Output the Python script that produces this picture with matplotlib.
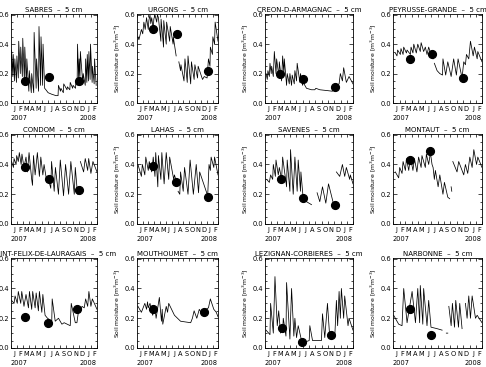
import numpy as np
import matplotlib
matplotlib.use("Agg")
import matplotlib.pyplot as plt
from matplotlib.ticker import MultipleLocator

nan = np.nan

# ---------------- data (day since 1 Jan 2007, soil moisture m3/m3) ----------------
MONTH_LABELS = list("JFMAMJJASONDJF")
MONTH_STARTS = [0, 31, 59, 90, 120, 151, 181, 212, 243, 273, 304, 334, 365, 396, 424]
Y_TICKS = [0.0, 0.2, 0.4, 0.6]

SABRES = [(0,0.22),(3,0.36),(9,0.18),(11,0.33),(17,0.15),(19,0.30),(27,0.14),(29,0.32),(36,0.17),(38,0.42),
          (46,0.20),(48,0.38),(56,0.18),(58,0.44),(66,0.15),(68,0.38),(76,0.12),(78,0.30),(88,0.08),(90,0.22),
          (100,0.07),(102,0.20),(112,0.07),(114,0.48),(124,0.10),(126,0.30),(136,0.08),(138,0.52),(146,0.12),
          (148,0.45),(156,0.12),(158,0.40),(166,0.10),(172,0.09),(183,0.07),(200,0.06),(222,0.05),(232,0.05),
          (234,0.12),(244,0.08),(246,0.10),(258,0.07),(260,0.13),(276,0.09),(278,0.11),(290,0.09),(292,0.14),
          (304,0.10),(306,0.12),(318,0.10),(320,0.15),(326,0.12),(328,0.40),(334,0.15),(336,0.30),(340,0.18),
          (342,0.35),(354,0.13),(356,0.20),(366,0.12),(368,0.30),(374,0.14),(376,0.33),(382,0.15),(384,0.35),
          (390,0.16),(392,0.40),(400,0.14),(402,0.25),(410,0.13),(412,0.30),(420,0.12)]
URGONS = [(5,0.45),(10,0.43),(23,0.50),(30,0.47),(36,0.55),(43,0.50),(50,0.58),(59,0.50),(62,0.56),(68,0.60),
          (72,0.54),(77,0.58),(85,0.50),(88,0.57),(94,0.60),(103,0.55),(107,0.60),(112,0.58),(125,0.42),(126,0.57),
          (139,0.38),(140,0.56),(153,0.40),(155,0.55),(171,0.42),(174,0.52),(189,0.40),(190,0.45),(205,0.32),(206,nan),
          (219,0.28),(228,0.22),(230,0.26),(246,0.15),(251,0.30),(263,0.14),(267,0.32),(281,0.13),(285,0.28),(299,0.16),
          (303,0.26),(317,0.17),(320,0.25),(343,0.16),(352,0.18),(367,0.17),(374,0.30),(382,0.25),(384,0.38),(395,0.33),
          (397,0.45),(406,0.40),(409,0.55),(424,0.42)]
CREON = [(5,0.20),(11,0.16),(14,0.22),(21,0.18),(24,0.27),(30,0.20),(32,0.25),(40,0.18),(45,0.35),(53,0.20),
         (56,0.30),(67,0.18),(69,0.28),(80,0.15),(85,0.32),(91,0.20),(93,0.30),(104,0.12),(107,0.20),(117,0.13),
         (120,0.20),(128,0.12),(131,0.19),(141,0.13),(144,0.22),(152,0.15),(155,0.27),(168,0.14),(171,0.20),(181,0.12),
         (184,0.14),(200,0.10),(224,0.09),(240,0.09),(245,0.10),(264,0.09),(296,0.085),(325,0.08),(336,0.12),(344,0.12),
         (357,0.13),(363,0.20),(373,0.15),(379,0.24),(392,0.14),(405,0.18),(424,0.13)]
PEYRUSSE = [(11,0.34),(19,0.32),(22,0.36),(35,0.33),(38,0.37),(48,0.33),(51,0.38),(64,0.34),(67,0.36),(83,0.33),
            (86,0.38),(95,0.34),(99,0.40),(111,0.34),(118,0.40),(130,0.35),(134,0.41),(146,0.35),(154,0.38),(162,0.33),
            (170,0.38),(181,0.33),(186,0.35),(191,0.30),(194,nan),(197,0.27),(210,0.22),(223,0.20),(236,0.19),(238,0.30),
            (251,0.19),(261,0.28),(277,0.18),(289,0.30),(302,0.19),(310,0.30),(329,0.17),(337,0.28),(345,0.26),(350,0.33),
            (361,0.30),(369,0.42),(382,0.32),(388,0.38),(401,0.30),(404,0.35),(424,0.28)]
CONDOM = [(3,0.42),(12,0.38),(15,0.44),(25,0.40),(28,0.46),(36,0.42),(41,0.48),(50,0.40),(54,0.47),(64,0.38),
          (74,0.45),(81,0.35),(89,0.48),(102,0.30),(106,0.26),(111,0.46),(119,0.33),(130,0.48),(140,0.32),(147,0.45),
          (157,0.33),(163,0.40),(177,0.28),(185,0.30),(196,0.24),(200,0.42),(213,0.22),(219,0.38),(234,0.20),(243,0.43),
          (259,0.19),(269,0.40),(284,0.20),(295,0.42),(312,0.20),(317,0.38),(328,0.20),(335,nan),(342,0.42),(358,0.35),
          (366,0.44),(378,0.36),(383,0.44),(394,0.34),(404,0.42),(424,0.35)]
LAHAS = [(5,0.40),(23,0.32),(28,0.40),(41,0.33),(46,0.45),(59,0.36),(64,0.42),(77,0.35),(85,0.45),(94,0.32),
         (98,0.48),(109,0.25),(112,0.46),(125,0.30),(130,0.48),(142,0.27),(153,0.48),(166,0.30),(171,0.45),(192,0.30),
         (196,0.33),(210,0.27),(212,nan),(215,0.22),(224,0.20),(228,0.35),(242,0.22),(249,0.38),(267,0.20),(278,0.43),
         (295,0.20),(310,0.40),(322,0.21),(328,0.35),(370,0.19),(377,0.40),(384,0.36),(388,0.45),(402,0.38),(406,0.45),
         (424,0.33)]
SAVENES = [(8,0.30),(21,0.28),(27,0.33),(37,0.30),(40,0.40),(50,0.32),(53,0.43),(64,0.33),(69,0.38),(80,0.30),
           (85,0.45),(104,0.25),(107,0.43),(120,0.22),(123,0.50),(136,0.20),(144,0.45),(155,0.22),(160,0.43),(171,0.22),
           (173,0.35),(184,0.17),(200,0.15),(224,0.13),(230,nan),(251,0.21),(264,0.15),(277,0.25),(293,0.14),(306,0.27),
           (331,0.13),(338,nan),(344,0.35),(360,0.32),(373,0.40),(384,0.32),(392,0.38),(408,0.30),(411,0.33),(424,0.27)]
MONTAUT = [(11,0.35),(27,0.31),(32,0.38),(43,0.34),(48,0.42),(59,0.36),(64,0.44),(75,0.36),(83,0.45),(95,0.36),
           (102,0.44),(114,0.35),(122,0.45),(134,0.38),(138,0.46),(154,0.38),(159,0.47),(170,0.40),(178,0.48),(186,0.40),
           (191,0.38),(197,0.30),(202,0.36),(215,0.25),(223,0.33),(238,0.20),(245,0.28),(261,0.18),(270,0.17),(274,nan),
           (277,0.25),(280,0.22),(282,nan),(285,0.42),(305,0.35),(313,0.42),(337,0.33),(345,0.40),(356,0.34),(366,0.45),
           (377,0.38),(385,0.50),(398,0.40),(404,0.45),(424,0.38)]
SAINT_FELIX = [(3,0.32),(15,0.30),(20,0.35),(31,0.30),(36,0.38),(48,0.30),(53,0.38),(64,0.28),(74,0.36),(86,0.27),
               (91,0.38),(102,0.26),(107,0.38),(119,0.27),(124,0.37),(135,0.25),(140,0.38),(152,0.24),(157,0.36),(168,0.22),
               (180,0.20),(201,0.18),(203,0.33),(218,0.18),(234,0.20),(251,0.16),(262,0.17),(292,0.15),(297,0.30),(317,0.17),
               (325,0.17),(333,0.25),(342,0.24),(350,0.28),(361,0.27),(368,0.33),(378,0.28),(384,0.38),(394,0.28),(401,0.33),
               (424,0.26)]
MOUTHOUMET = [(5,0.28),(23,0.24),(41,0.30),(50,0.26),(55,0.31),(59,0.27),(68,0.30),(82,0.22),(93,0.28),(100,0.20),
              (117,0.34),(128,0.18),(132,0.26),(135,0.16),(153,0.28),(160,0.24),(166,0.30),(196,0.22),(228,0.18),(281,0.17),
              (290,0.20),(299,0.25),(313,0.20),(326,0.26),(343,0.22),(361,0.26),(374,0.27),(384,0.33),(402,0.26),(415,0.24),
              (424,0.21)]
LEZIGNAN = [(5,0.12),(24,0.09),(27,0.30),(40,0.10),(48,0.48),(59,0.15),(66,0.25),(75,0.10),(80,0.13),(85,0.11),
            (88,0.20),(101,0.08),(104,0.44),(120,0.06),(128,0.40),(139,0.08),(144,0.20),(152,0.07),(160,0.15),(176,0.05),
            (192,0.04),(213,0.05),(216,0.15),(229,0.05),(272,0.05),(277,0.23),(288,0.07),(301,0.30),(312,0.07),(336,0.07),
            (344,0.32),(350,0.15),(357,0.38),(363,0.20),(368,0.40),(379,0.20),(384,0.35),(400,0.15),(405,0.20),(424,0.12)]
NARBONNE = [(3,0.22),(27,0.16),(43,0.15),(51,0.40),(67,0.17),(91,0.38),(107,0.17),(118,0.40),(127,0.17),(130,0.42),
            (142,0.16),(146,0.40),(162,0.15),(170,0.32),(181,0.14),(210,0.13),(234,0.12),(240,nan),(254,0.10),(261,0.10),
            (263,nan),(266,0.28),(277,0.15),(283,0.30),(293,0.14),(299,0.32),(312,0.14),(318,0.30),(329,0.13),(336,nan),
            (345,0.30),(353,0.20),(361,0.35),(369,0.20),(377,0.35),(393,0.20),(401,0.22),(424,0.17)]

# large dots (reference measurements)
DOTS = {
    "SABRES": [(69,0.152),(185,0.177),(337,0.152)],
    "URGONS": [(82,0.50),(210,0.47),(374,0.22)],
    "CREON-D-ARMAGNAC": [(72,0.195),(184,0.16),(336,0.107)],
    "PEYRUSSE-GRANDE": [(80,0.30),(186,0.335),(334,0.17)],
    "CONDOM": [(69,0.38),(185,0.30),(337,0.23)],
    "LAHAS": [(82,0.39),(206,0.28),(374,0.18)],
    "SAVENES": [(75,0.30),(184,0.175),(336,0.13)],
    "MONTAUT": [(80,0.43),(178,0.49)],
    "SAINT-FELIX-DE-LAURAGAIS": [(69,0.21),(180,0.17),(325,0.26)],
    "MOUTHOUMET": [(85,0.26),(352,0.245)],
    "LEZIGNAN-CORBIERES": [(80,0.135),(179,0.04),(320,0.087)],
    "NARBONNE": [(80,0.265),(181,0.09)],
}
SITES = [("SABRES", SABRES), ("URGONS", URGONS), ("CREON-D-ARMAGNAC", CREON), ("PEYRUSSE-GRANDE", PEYRUSSE),
         ("CONDOM", CONDOM), ("LAHAS", LAHAS), ("SAVENES", SAVENES), ("MONTAUT", MONTAUT),
         ("SAINT-FELIX-DE-LAURAGAIS", SAINT_FELIX), ("MOUTHOUMET", MOUTHOUMET),
         ("LEZIGNAN-CORBIERES", LEZIGNAN), ("NARBONNE", NARBONNE)]

# ---------------- layout ----------------
W, H = 486, 367
fig = plt.figure(figsize=(W / 100, H / 100), dpi=100)
COL_X = [(11, 97), (137, 218), (265, 353), (393, 482)]
ROW_Y = [(14, 103), (134, 224), (258, 348)]

mids = [(a + b) / 2 for a, b in zip(MONTH_STARTS[:-1], MONTH_STARTS[1:])]
FS = 4.8

for i, (name, series) in enumerate(SITES):
    r, c = divmod(i, 4)
    x0, x1 = COL_X[c]
    y0, y1 = ROW_Y[r]
    ax = fig.add_axes([x0 / W, 1 - y1 / H, (x1 - x0) / W, (y1 - y0) / H])
    d, v = np.array(series, dtype=float).T
    ax.plot(d, v, color="black", lw=0.55)
    dd, dv = np.array(DOTS[name]).T
    ax.plot(dd, dv, "o", color="black", ms=5.6, mec="black")
    ax.set_xlim(0, 424)
    ax.set_ylim(0, 0.605)
    ax.set_xticks(mids)
    ax.set_xticklabels(MONTH_LABELS, fontsize=FS)
    ax.set_xticks(MONTH_STARTS, minor=True)
    ax.tick_params(axis="x", which="major", length=0, pad=2.5)
    ax.tick_params(axis="x", which="minor", length=2, direction="in", top=True, width=0.5)
    ax.set_yticks(Y_TICKS)
    ax.set_yticklabels([f"{t:.1f}" for t in Y_TICKS], fontsize=FS)
    ax.yaxis.set_minor_locator(MultipleLocator(0.05))
    ax.tick_params(axis="y", which="major", length=3, direction="in", right=True, width=0.5, pad=1.5)
    ax.tick_params(axis="y", which="minor", length=1.5, direction="in", right=True, width=0.5)
    for s in ax.spines.values():
        s.set_linewidth(0.6)
    ax.set_title(f"{name}  \u2013  5 cm", fontsize=5.0, pad=1.8)
    ax.set_ylabel("Soil moisture [m$^3$m$^{-3}$]", fontsize=4.4, labelpad=2)
    ax.text(0.0, -0.165, "2007", transform=ax.transAxes, ha="left", va="center", fontsize=FS)
    ax.text(1.0, -0.165, "2008", transform=ax.transAxes, ha="right", va="center", fontsize=FS)

fig.savefig("out.png", dpi=100)
